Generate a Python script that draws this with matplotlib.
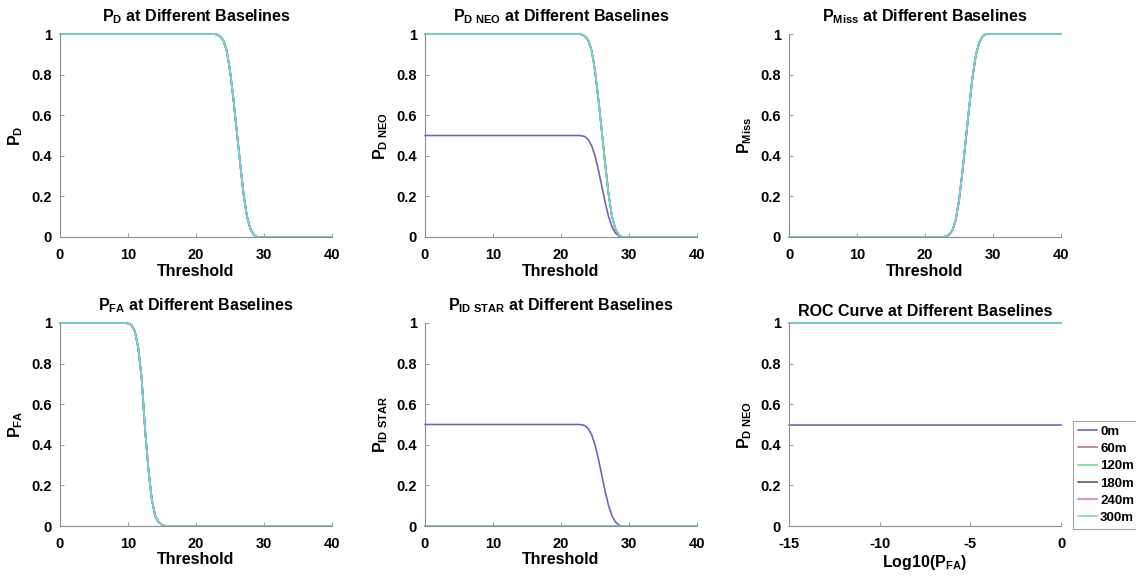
import numpy as np
import matplotlib
matplotlib.use("Agg")
import matplotlib.pyplot as plt

plt.rcParams['font.family'] = ['Liberation Sans', 'DejaVu Sans']
plt.rcParams['font.weight'] = 'bold'
plt.rcParams['axes.unicode_minus'] = False
plt.rcParams['mathtext.fontset'] = 'custom'
plt.rcParams['mathtext.rm'] = 'Liberation Sans:bold'
plt.rcParams['mathtext.bf'] = 'Liberation Sans:bold'
plt.rcParams['mathtext.it'] = 'Liberation Sans:bold'

baselines = ['0m', '60m', '120m', '180m', '240m', '300m']
colors = ['#6a6ab4', '#b57a7a', '#6fdc8c', '#5a5a5a', '#d07ad0', '#6cdccf']

# detection curve vs threshold (same for every baseline)
thr_d = [0, 22.5, 23, 23.5, 24, 24.5, 25, 25.5, 26, 26.5, 27, 27.5, 28, 28.5, 29, 40]
p_d = [1, 1, 0.998, 0.99, 0.97, 0.92, 0.82, 0.68, 0.52, 0.36, 0.21, 0.10, 0.04, 0.01, 0, 0]
p_miss = [0, 0, 0.002, 0.01, 0.03, 0.08, 0.18, 0.32, 0.48, 0.64, 0.79, 0.90, 0.96, 0.99, 1, 1]
# 0m baseline only reaches half
p_d_neo_0m = [0.5, 0.5, 0.499, 0.495, 0.48, 0.45, 0.40, 0.33, 0.25, 0.17, 0.10, 0.05, 0.02, 0.005, 0, 0]
p_id_star_0m = p_d_neo_0m
p_id_star_other = [0] * len(thr_d)

# false alarm curve
thr_fa = [0, 9.5, 10, 10.5, 11, 11.5, 12, 12.5, 13, 13.5, 14, 14.5, 15, 15.5, 40]
p_fa = [1, 1, 0.998, 0.99, 0.96, 0.88, 0.73, 0.48, 0.28, 0.13, 0.05, 0.02, 0.005, 0, 0]

# ROC
log_pfa = [-15, 0]
roc_0m = [0.5, 0.5]
roc_other = [1, 1]

W, H = 1136, 579
fig = plt.figure(figsize=(W / 100, H / 100), dpi=100)

lefts = [60, 425, 789]
tops = [34, 323]
aw, ah = 272, 203
LW = 1.2


def make_ax(row, col):
    l = lefts[col] / W
    b = 1 - (tops[row] + ah) / H
    ax = fig.add_axes([l, b, aw / W, ah / H])
    for s in ['top', 'right']:
        ax.spines[s].set_visible(False)
    for s in ['left', 'bottom']:
        ax.spines[s].set_color('#8c8c8c')
        ax.spines[s].set_linewidth(0.8)
    ax.tick_params(direction='in', length=3, width=0.6, color='#8c8c8c',
                   labelsize=10.5, labelcolor='black')
    ax.tick_params(axis='x', pad=8)
    ax.tick_params(axis='y', pad=6)
    ax.set_ylim(0, 1)
    ax.set_yticks([0, 0.2, 0.4, 0.6, 0.8, 1])
    ax.set_yticklabels(['0', '0.2', '0.4', '0.6', '0.8', '1'])
    for lab in ax.get_xticklabels() + ax.get_yticklabels():
        lab.set_fontweight('bold')
    return ax


def threshold_ax(ax):
    ax.set_xlim(0, 40)
    ax.set_xticks([0, 10, 20, 30, 40])
    ax.set_xlabel('Threshold', fontsize=11.5, fontweight='bold', labelpad=1)


def titles(ax, sym, pad=9):
    ax.set_title(r'$\mathbf{P_{%s}}$ at Different Baselines' % sym,
                 fontsize=11.5, fontweight='bold', pad=pad)
    ax.set_ylabel(r'$\mathbf{P_{%s}}$' % sym, fontsize=11.5, labelpad=4)


def draw(ax, x, y):
    for i, c in enumerate(colors):
        ax.plot(x, y[i], color=c, lw=LW, clip_on=False, label=baselines[i])


# P_D
ax = make_ax(0, 0)
draw(ax, thr_d, [p_d] * 6)
threshold_ax(ax)
titles(ax, 'D')

# P_D NEO
ax = make_ax(0, 1)
draw(ax, thr_d, [p_d_neo_0m] + [p_d] * 5)
threshold_ax(ax)
titles(ax, r'D\ NEO')

# P_Miss
ax = make_ax(0, 2)
draw(ax, thr_d, [p_miss] * 6)
threshold_ax(ax)
titles(ax, 'Miss')

# P_FA
ax = make_ax(1, 0)
draw(ax, thr_fa, [p_fa] * 6)
threshold_ax(ax)
titles(ax, 'FA')

# P_ID STAR
ax = make_ax(1, 1)
draw(ax, thr_d, [p_id_star_0m] + [p_id_star_other] * 5)
threshold_ax(ax)
titles(ax, r'ID\ STAR')

# ROC
ax = make_ax(1, 2)
draw(ax, log_pfa, [roc_0m] + [roc_other] * 5)
handles = ax.get_lines()
ax.set_xlim(-15, 0)
ax.set_xticks([-15, -10, -5, 0])
for lab in ax.get_xticklabels():
    lab.set_fontweight('bold')
ax.set_xlabel(r'Log10($\mathbf{P_{FA}}$)', fontsize=11.5, fontweight='bold', labelpad=1)
ax.set_title('ROC Curve at Different Baselines', fontsize=11.5, fontweight='bold', pad=5)
ax.set_ylabel(r'$\mathbf{P_{D\ NEO}}$', fontsize=11.5, labelpad=4)

leg = fig.legend(handles=handles, loc='upper left',
                 bbox_to_anchor=(1073 / W, 1 - 421 / H),
                 fontsize=9.5, handlelength=1.5, handletextpad=0.2,
                 labelspacing=0.38, borderpad=0.35, borderaxespad=0,
                 frameon=True, fancybox=False)
leg.get_frame().set_edgecolor('#8c8c8c')
leg.get_frame().set_linewidth(0.8)
for t in leg.get_texts():
    t.set_fontweight('bold')

fig.savefig('out.png', dpi=100)
